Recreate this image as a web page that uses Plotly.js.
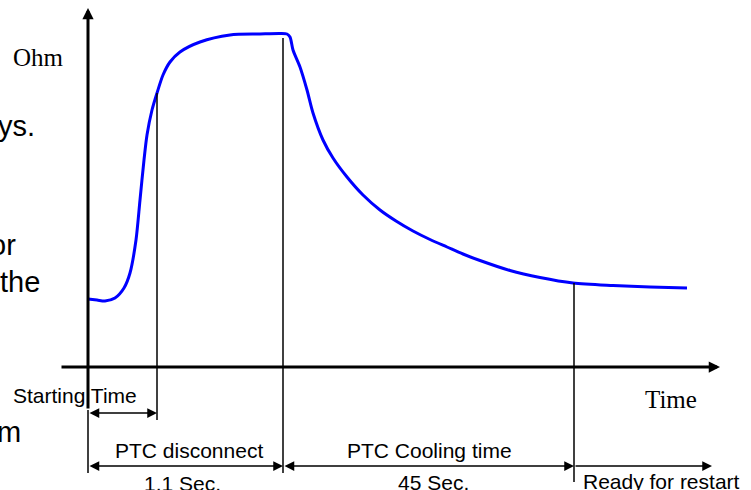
<!DOCTYPE html>
<html>
<head>
<meta charset="utf-8">
<script src="https://cdn.plot.ly/plotly-3.0.1.min.js"></script>
<style>html,body{margin:0;padding:0;background:#fff;}#chart{width:751px;height:490px;}</style>
</head>
<body>
<div id="chart"></div>
<script>
// PTC resistance curve (arbitrary time units, arbitrary ohm units)
const timeValues = [0, 0.9, 1.7, 2.7, 3.6, 4.2, 4.8, 5.2, 5.6, 5.9, 6.4, 6.9, 7.5, 8.2, 9.2, 11.2, 14.2, 17.2, 19.2, 19.9, 20.2, 20.5, 21.2, 21.9, 22.5, 23.5, 24.5, 25.9, 27.5, 29.2, 30.8, 32.5, 34.2, 35.9, 37.5, 39.2, 42.2, 45.2, 48.5, 52.5, 56.2, 59.9];
const ohmValues  = [6.8, 6.7, 6.6, 6.9, 7.9, 9.4, 12.7, 16.7, 20.7, 23.2, 25.7, 27.4, 29.2, 30.5, 31.5, 32.5, 33.2, 33.3, 33.35, 33.3, 33.0, 31.7, 30.0, 27.7, 25.4, 22.7, 20.9, 19.0, 17.2, 15.7, 14.6, 13.6, 12.75, 12.0, 11.3, 10.65, 9.65, 8.95, 8.4, 8.15, 8.0, 7.9];

// Event markers on the time axis
const eventNames = ["Starting", "Disconnect", "Ready"];
const eventTimes = [6.9, 19.5, 48.6];
const eventTops  = [27.4, 32.9, 8.4];
const endTime = 62.4;

// Text labels
const axisLabels = ["Ohm", "Time"];
const intervalLabels = ["Starting Time", "PTC disconnect", "PTC Cooling time", "Ready for restart"];
const durationLabels = ["1.1 Sec.", "45 Sec."];
const sideTexts = ["ys.", "or", "the", "m"];

const black = "#000000";
const sans = "Liberation Sans, Arial, sans-serif";
const serif = "Liberation Serif, Times New Roman, serif";

const shapes = [];
// thin extension of origin line below the time axis
shapes.push({type:"line", x0:0, x1:0, y0:-10.6, y1:-4.3, line:{color:black, width:1.5}});
// event lines
const eventBottoms = [-5.3, -10.6, -11.5];
eventTimes.forEach((t, i) => {
  shapes.push({type:"line", x0:t, x1:t, y0:eventBottoms[i], y1:eventTops[i], line:{color:black, width:1.5}});
});

const annotations = [];
function arrow(x0, y0, x1, y1, w, size, side) {
  annotations.push({x:x1, y:y1, ax:x0, ay:y0, xref:"x", yref:"y", axref:"x", ayref:"y",
    text:"", showarrow:true, arrowhead:2, startarrowhead:2, arrowsize:size, startarrowsize:size,
    arrowwidth:w, arrowcolor:black, arrowside:side, standoff:0, startstandoff:0});
}
// axes with arrow heads
arrow(0, -4.3, 0, 35.9, 3, 0.75, "end");
arrow(-2.8, 0, 63.2, 0, 3, 0.75, "end");
// interval arrows
arrow(0, -4.6, eventTimes[0], -4.6, 1.5, 1.3, "end+start");
arrow(0, -9.9, eventTimes[1], -9.9, 1.5, 1.3, "end+start");
arrow(eventTimes[1], -9.9, eventTimes[2], -9.9, 1.5, 1.3, "end+start");
arrow(eventTimes[2], -9.9, endTime, -9.9, 1.5, 1.3, "end");

function label(text, x, y, font, size, xanchor) {
  annotations.push({x:x, y:y, xref:"x", yref:"y", text:text, showarrow:false,
    xanchor:xanchor || "center", yanchor:"middle",
    font:{family:font, size:size, color:black}});
}
label(axisLabels[0], -5.0, 31.0, serif, 25);
label(axisLabels[1], 58.3, -3.2, serif, 25);
label(intervalLabels[0], -1.3, -2.8, sans, 21);
label(intervalLabels[1], 10.1, -8.3, sans, 21);
label(intervalLabels[2], 34.1, -8.3, sans, 21);
label(intervalLabels[3], 65.4, -11.4, sans, 21, "right");
label(durationLabels[0], 9.4, -11.6, sans, 21);
label(durationLabels[1], 34.5, -11.5, sans, 21);
label(sideTexts[0], -5.1, 24.1, sans, 29, "right");
label(sideTexts[1], -7.0, 12.2, sans, 29, "right");
label(sideTexts[2], -4.6, 8.5, sans, 29, "right");
label(sideTexts[3], -6.5, -6.5, sans, 29, "right");

const trace = {x: timeValues, y: ohmValues, type:"scatter", mode:"lines",
  line:{color:"#0000ff", width:3, shape:"spline", smoothing:0.8}, hoverinfo:"skip"};

const layout = {
  width:751, height:490,
  margin:{l:0, r:0, t:0, b:0, pad:0},
  paper_bgcolor:"#ffffff", plot_bgcolor:"#ffffff",
  showlegend:false,
  xaxis:{range:[-8.8, 66.3], visible:false, fixedrange:true},
  yaxis:{range:[-12.3, 36.7], visible:false, fixedrange:true},
  shapes: shapes,
  annotations: annotations
};
Plotly.newPlot("chart", [trace], layout, {staticPlot:true, displayModeBar:false});
</script>
</body>
</html>
